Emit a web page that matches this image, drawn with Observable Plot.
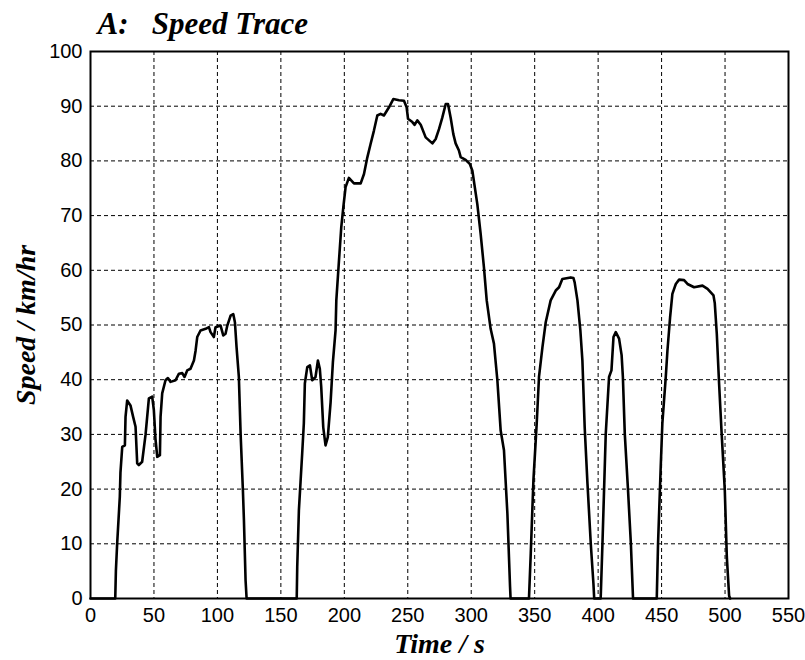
<!DOCTYPE html>
<html><head><meta charset="utf-8">
<script src="https://cdn.jsdelivr.net/npm/d3@7"></script>
<script src="https://cdn.jsdelivr.net/npm/@observablehq/plot@0.6"></script>
<style>body{margin:0;background:#fff}</style>
</head><body><div id="chart"></div>
<script>
const timeS = [
  0, 19.5, 20, 21, 23.1, 23.6, 25, 27.1, 27.6, 28.9, 31.5, 33.6, 35.5, 36.8, 38.1, 40.7, 43.4, 46, 48.6, 49.9,
  51.2, 52.6, 54.7, 55.2, 56.5, 59.1, 61, 63.1, 67, 69.7, 72.3, 74.1, 76.2, 78.8, 81.5, 82.8, 84.1, 86.7, 90.7, 93.3,
  94.6, 97.2, 98.5, 102.5, 104.6, 106.4, 107.8, 110.4, 112.5, 113.8, 115.1, 116.9, 118.3, 120.1, 120.9, 122.2, 123,
  162.5, 162.9, 164.2, 165.5, 166.8, 168.1, 168.9, 170.8, 172.9, 174.7, 177.3, 179.2, 180.7, 181.8, 183.4, 185.2, 187,
  189.2, 191, 193.1, 193.7, 195.8, 197.6, 199.2, 201, 203.6, 207.6, 212.9, 215.5, 218.1, 220.7, 223.3, 226, 228.6,
  231.2, 235.2, 238.6, 243.1, 247, 249.1, 250.2, 253.6, 255.4, 257.5, 260.2, 264.1, 269.4, 272, 274.6, 277.2, 279.9,
  281.7, 283.8, 285.9, 287.7, 290.3, 291.7, 295.6, 299, 300.9, 304.8, 307.4, 310, 312.2, 315.3, 317.9, 320.6, 323.2,
  325.8, 328.5, 330.6, 331,
  345.5, 346.9, 349, 351.6, 353.4, 356.1, 358.7, 362.6, 366.6, 369.2, 371.8, 378.4, 380.5, 381.5, 383.7, 386, 387.6,
  389.4, 391.6, 394.2, 396.3, 396.9,
  402, 403.4, 406, 408.6, 410.5, 412.1, 413.9, 416.5, 418.5, 419.5, 421, 423.5, 425.8, 427.5,
  446.2, 447.2, 449.3, 450.6, 453.3, 454.6, 456.7, 458.5, 461.2, 463.8, 467.7, 470.4, 475.6, 482.2, 486.2, 490.9,
  491.9, 493.5, 495.3, 497.2, 499.8, 501.4, 503.2, 504
];
const speedKmh = [
  0, 0, 5, 10, 18.6, 23, 27.7, 28, 33.2, 36.2, 35.3, 33.2, 31.4, 24.7, 24.4, 25, 30, 36.6, 36.9, 34.5,
  29.2, 25.9, 26.2, 33.2, 37.5, 39.9, 40.3, 39.6, 39.9, 41.1, 41.2, 40.5, 41.7, 42, 43.5, 45.3, 47.8, 49, 49.3, 49.6,
  48.7, 47.8, 49.6, 49.9, 48.1, 48.4, 49.9, 51.7, 52, 50.5, 45.9, 40.5, 30, 19.7, 14.3, 3.3, 0,
  0, 5.8, 16.1, 21.3, 26.5, 32, 39.3, 42.3, 42.6, 39.9, 40.5, 43.5, 42, 38.7, 31.3, 28, 29.5,
  35.9, 43.2, 49, 54.5, 61.8, 67.9, 71.5, 75.2, 76.9, 75.9, 75.9, 77.6, 80.6, 83.1, 85.5, 88.3, 88.6,
  88.3, 89.8, 91.3, 91.1, 91, 89.8, 87.7, 87.1, 86.6, 87.4, 86.6, 84.3, 83.2, 84, 85.8, 87.9, 90.4,
  90.4, 87.9, 84.9, 83.2, 81.9, 80.7, 80.2, 79.4, 78.2, 72.1, 66.7, 60.6, 54.5, 49.3, 46.6, 39.9, 30.7,
  27.1, 15.5, 2.1, 0,
  0, 8.2, 21.6, 32, 40.5, 45.9, 50.5, 54.5, 56.3, 56.9, 58.4, 58.7, 58.6, 57.8, 54.5, 49, 43.5,
  31.3, 21, 10, 2.7, 0,
  0, 10, 30.1, 40.5, 41.7, 47.8, 48.7, 47.5, 44.5, 40.5, 30.1, 20, 10, 0,
  0, 10, 24, 32, 40.5, 45.3, 51.4, 55.7, 57.5, 58.3, 58.2, 57.5, 56.9, 57.2, 56.6, 55.4,
  54, 48.4, 39.3, 30.7, 19.8, 7.6, 0.5, 0
];
const xTicks = [0, 50, 100, 150, 200, 250, 300, 350, 400, 450, 500, 550];
const yTicks = [0, 10, 20, 30, 40, 50, 60, 70, 80, 90, 100];
const titleText = "A:\u00a0\u00a0\u00a0Speed Trace";
const xLabel = "Time / s";
const yLabel = "Speed / km/hr";

const trace = timeS.map((t, i) => ({t, v: speedKmh[i]}));
const serif = "'Liberation Serif', 'Times New Roman', serif";
const labelStyle = {fontFamily: serif, fontSize: 28, fontWeight: "bold", fontStyle: "italic", fill: "#000", text: d => d, lineAnchor: "middle"};

const chart = Plot.plot({
  width: 805, height: 660,
  marginLeft: 90, marginRight: 17, marginTop: 51, marginBottom: 62,
  style: {fontFamily: "'Liberation Sans', sans-serif", fontSize: "20px", color: "#000", background: "#fff"},
  x: {domain: [0, 550]},
  y: {domain: [0, 100]},
  marks: [
    Plot.gridX(xTicks, {stroke: "#000", strokeOpacity: 1, strokeWidth: 1, strokeDasharray: "4,3"}),
    Plot.gridY(yTicks, {stroke: "#000", strokeOpacity: 1, strokeWidth: 1, strokeDasharray: "4,3"}),
    Plot.axisX(xTicks, {tickSize: 0, tickPadding: 9, label: null}),
    Plot.axisY(yTicks, {tickSize: 0, tickPadding: 8, label: null}),
    Plot.line(trace, {x: "t", y: "v", stroke: "#000", strokeWidth: 2.6}),
    Plot.frame({stroke: "#000", strokeWidth: 2}),
    Plot.text([titleText], {...labelStyle, fontSize: 31, frameAnchor: "top-left", textAnchor: "start", dx: 7, dy: -27}),
    Plot.text([xLabel], {...labelStyle, frameAnchor: "bottom", textAnchor: "middle", dy: 46}),
    Plot.text([yLabel], {...labelStyle, frameAnchor: "left", textAnchor: "middle", rotate: -90, dx: -64})
  ]
});
document.getElementById("chart").appendChild(chart);
</script>
</body></html>
